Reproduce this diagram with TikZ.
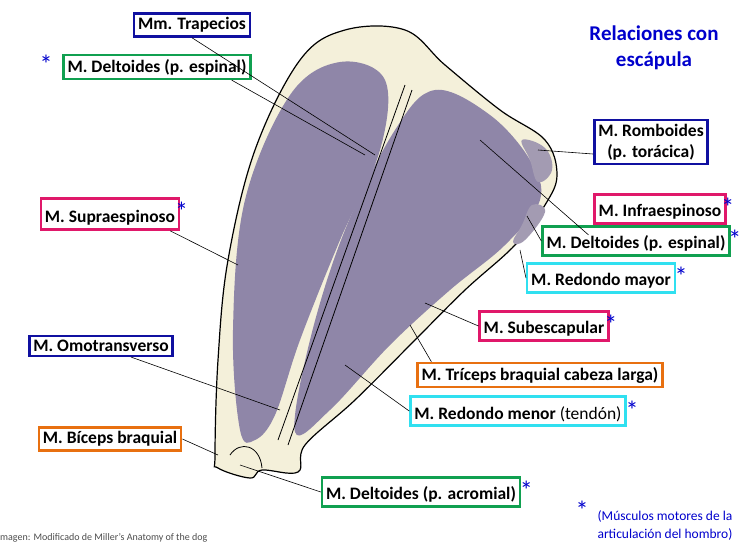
\documentclass[tikz,border=0pt]{standalone}
\usepackage{fontspec}
\setmainfont{Carlito}
\newcommand{\myast}{\textcolor{blue!80!black}{\normalfont\fontsize{26}{26}\selectfont *}}
\begin{document}
\begin{tikzpicture}[x=1pt,y=-1pt,
 lab/.style={draw=#1,line width=2.5pt,fill=white,inner sep=4pt,font=\bfseries\fontsize{17.5}{21}\selectfont,align=center},
 ast/.style={text=blue!80!black,font=\fontsize{26}{26}\selectfont},
 ld/.style={black,line width=0.6pt}]
\useasboundingbox (0,0) rectangle (749,550);
\definecolor{bone}{HTML}{F4F0DA}\definecolor{mus}{HTML}{8F86A8}
\definecolor{cb}{HTML}{1010A0}\definecolor{cg}{HTML}{10A050}\definecolor{cp}{HTML}{E0186A}
\definecolor{cc}{HTML}{30E0F0}\definecolor{co}{HTML}{E87010}
% bone
\draw[fill=bone,line width=1.2pt] plot[smooth cycle,tension=0.6] coordinates{(215,455)(218,360)(228,260)(255,150)(300,60)(345,30)(405,30)(445,65)(500,110)(545,140)(557,175)(545,205)(515,245)(465,290)(415,340)(355,400)(305,445)(298,472)(262,470)(250,478)(218,468)};
\fill[mus] plot[smooth cycle,tension=0.6] coordinates{(240,430)(233,330)(245,200)(290,95)(340,62)(385,80)(380,150)(340,240)(300,340)(275,415)(255,440)};
\fill[mus] plot[smooth cycle,tension=0.6] coordinates{(295,432)(310,340)(345,230)(395,130)(435,90)(490,115)(530,160)(540,200)(505,245)(450,290)(390,345)(330,410)};
\fill[mus!80!bone] plot[smooth cycle,tension=0.7] coordinates{(522,140)(545,148)(552,170)(538,182)(530,160)};
\fill[mus!80!bone] plot[smooth cycle,tension=0.7] coordinates{(532,205)(545,212)(525,240)(513,242)(522,225)};
\draw[line width=0.8pt] (405,85) -- (278,440) (412,90) -- (288,445);
\draw[line width=0.8pt] (230,455) .. controls (240,440) and (260,445) .. (262,468);
% labels
\node[lab=cb] (tr) at (192,25) {Mm. Trapecios};
\node[lab=cg] (d1) at (157,67) {M. Deltoides (p. espinal)};
\node[ast] at (46,64) {*};
\node[lab=cb] (ro) at (651,142) {M. Romboides\\(p. torácica)};
\node[lab=cp] (su) at (110,214) {M. Supraespinoso\rlap{\raisebox{2pt}{\myast}}};
\node[lab=cp] (in) at (660,209) {M. Infraespinoso\rlap{\myast}};
\node[lab=cg] (d2) at (636,241) {M. Deltoides (p. espinal)\rlap{\,\myast}};
\node[lab=cc] (rm) at (601,278) {M. Redondo mayor\rlap{\ \myast}};
\node[lab=cp] (sb) at (544,326) {M. Subescapular\rlap{\myast}};
\node[lab=cb] (om) at (101,346) {M. Omotransverso};
\node[lab=co] (tc) at (540,375) {M. Tríceps braquial cabeza larga)};
\node[lab=cc] (rn) at (518,411) {M. Redondo menor {\mdseries(tendón)}\rlap{\ \myast}};
\node[lab=co] (bi) at (110,439) {M. Bíceps braquial};
\node[lab=cg] (d3) at (421,492) {M. Deltoides (p. acromial)\rlap{\ \myast}};
\node[text=blue!80!black,font=\bfseries\fontsize{21}{26}\selectfont,align=center] (rel) at (654,48) {Relaciones con\\escápula};
\node[ast] (a0) at (582,510) {*};
\node[text=blue!80!black,font=\fontsize{13.5}{18}\selectfont,align=center] (mm) at (665,525) {(Músculos motores de la\\articulación del hombro)};
\node[font=\fontsize{10}{11}\selectfont,text=black!70,anchor=west,inner sep=0pt] (cr) at (0,538) {magen: Modificado de Miller's Anatomy of the dog};
% leaders
\coordinate (p1) at (375,155); \draw[ld] (tr.south) -- (p1);
\coordinate (p2) at (365,155); \draw[ld] (d1.south east) ++(-20,0) -- (p2);
\coordinate (p3) at (538,150); \draw[ld] (ro.west) ++(0,12) -- (p3);
\coordinate (p4) at (238,265); \draw[ld] (su.south east) ++(-10,0) -- (p4);
\coordinate (p5) at (480,140); \draw[ld] (in.south west) ++(-5,10) -- (p5);
\coordinate (p6) at (527,216); \draw[ld] (d2.west) -- (p6);
\coordinate (p7) at (520,250); \draw[ld] (rm.west) -- (p7);
\coordinate (p8) at (425,303); \draw[ld] (sb.west) -- (p8);
\coordinate (p9) at (410,325); \draw[ld] (tc.north west) ++(15,0) -- (p9);
\coordinate (p10) at (280,410); \draw[ld] (om.south) ++(30,0) -- (p10);
\coordinate (p11) at (345,365); \draw[ld] (rn.west) -- (p11);
\coordinate (p12) at (218,455); \draw[ld] (bi.east) -- (p12);
\coordinate (p13) at (240,465); \draw[ld] (d3.west) -- (p13);
\end{tikzpicture}
\end{document}
